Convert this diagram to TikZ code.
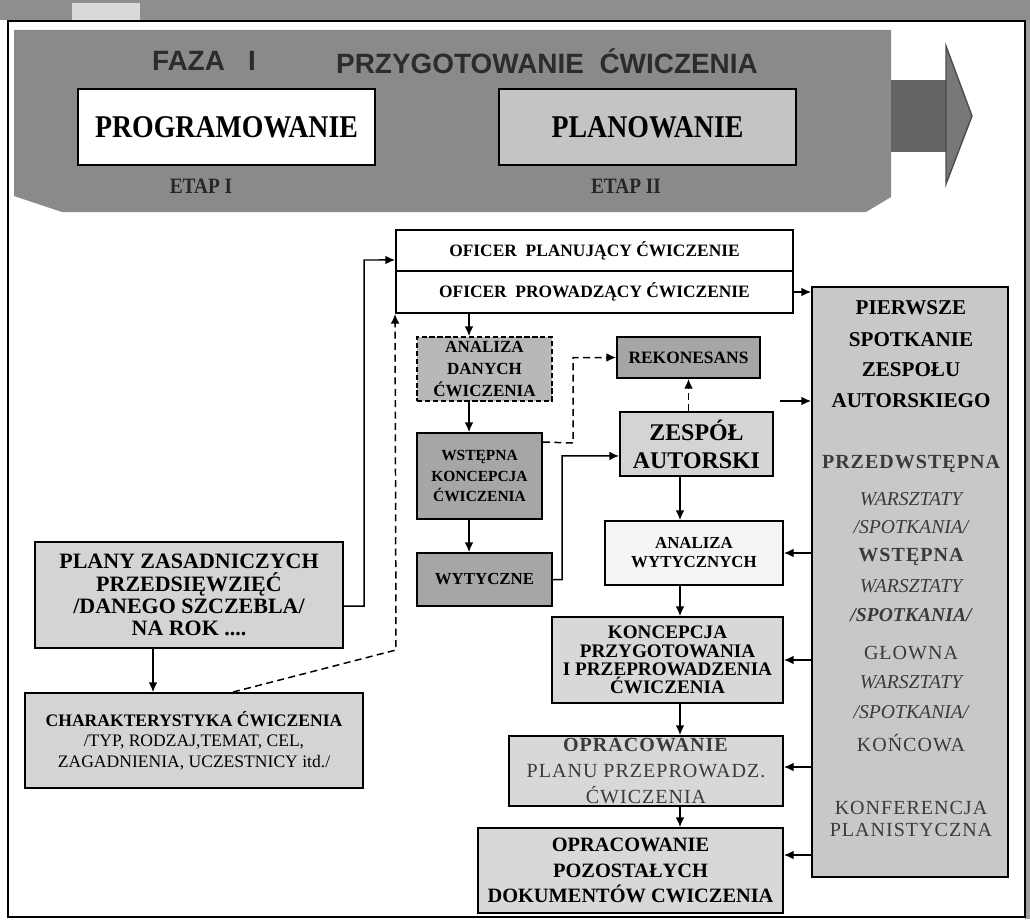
\documentclass[tikz,border=0pt]{standalone}
\usepackage{fontspec}
\setmainfont{Liberation Serif}
\newfontfamily\sansc{Liberation Sans}
\newfontfamily\serifc[FakeStretch=0.88]{Liberation Serif}
\newfontfamily\serifls[LetterSpace=5]{Liberation Serif}
\usetikzlibrary{arrows.meta,fit}
\definecolor{bandtop}{HTML}{8E8E8E}
\definecolor{bannerfill}{HTML}{8A8A8A}
\definecolor{arrshaft}{HTML}{646464}
\definecolor{arrhead}{HTML}{787878}
\definecolor{planfill}{HTML}{C4C4C4}
\definecolor{ltgray}{HTML}{D4D4D4}
\definecolor{midgray}{HTML}{A6A6A6}
\definecolor{dgray}{HTML}{B8B8B8}
\definecolor{colfill}{HTML}{C8C8C8}
\definecolor{titletext}{HTML}{2C2C2C}
\definecolor{softtext}{HTML}{3A3A3A}
\newcommand\fz[2]{\fontsize{#1}{#2}\selectfont}
\tikzset{
  bx/.style={draw=black, line width=1.1pt, inner sep=0pt},
  lbl/.style={align=center, inner sep=0pt},
  conn/.style={line width=0.85pt, -{Latex[length=5.5pt,width=5pt]}},
  dconn/.style={conn, dashed, dash pattern=on 4pt off 2.5pt},
}
% #1 name, #2 corners, #3 box options, #4 font, #5 text
\newcommand\bxt[5]{%
  \node[bx, fit={#2}, #3] (#1) {};
  \node[lbl, font=#4] (#1-t) at (#1.center) {#5};}
\begin{document}
\begin{tikzpicture}[x=0.02cm,y=-0.02cm]
\useasboundingbox (0,0) rectangle (1030,919);
\fill[white] (0,0) rectangle (1030,919);
% scan border
\fill[bandtop] (0,0) rectangle (1030,20);
\fill[gray!30] (72,3) rectangle (140,20);
\fill[gray!75] (1025,20) rectangle (1030,919);
\draw[line width=1pt] (8,21) -- (1025,21) -- (1025,917) -- (8,917) -- cycle;

% banner
\fill[bannerfill] (14,30) -- (891,30) -- (891,197) -- (866,212) -- (62,212) -- (14,196) -- cycle;
\fill[arrshaft] (891,80) rectangle (946,152);
\filldraw[fill=arrhead, draw=black!70, line width=0.8pt] (946,46) -- (972,116) -- (946,184) -- cycle;
\node[lbl, font=\sansc\bfseries\fz{15.9}{18}, text=titletext] (faza) at (204,61) {FAZA\ \ \ I};
\node[lbl, font=\sansc\bfseries\fz{15.9}{18}, text=titletext] (przyg) at (547,61) {PRZYGOTOWANIE\ \ ĆWICZENIA};
\bxt{prog}{(78,89)(375,165)}{fill=white}{\serifc\bfseries\fz{18}{20}}{PROGRAMOWANIE}
\bxt{plan}{(499,89)(796,165)}{fill=planfill}{\serifc\bfseries\fz{18}{20}}{PLANOWANIE}
\node[lbl, font=\serifc\bfseries\fz{12.5}{13}, text=black!85] (etap1) at (201,186) {ETAP I};
\node[lbl, font=\serifc\bfseries\fz{12.5}{13}, text=black!85] (etap2) at (626,186) {ETAP II};

% officer boxes
\bxt{ofp}{(396,230)(793,271)}{fill=white}{\bfseries\fz{9.9}{12}}{OFICER\ \ PLANUJĄCY ĆWICZENIE}
\bxt{ofw}{(396,271)(793,313)}{fill=white}{\bfseries\fz{9.9}{12}}{OFICER\ \ PROWADZĄCY ĆWICZENIE}

% left column
\bxt{plany}{(35,542)(343,648)}{fill=ltgray}{\bfseries\fz{12.5}{12.6}}{PLANY ZASADNICZYCH\\PRZEDSIĘWZIĘĆ\\/DANEGO SZCZEBLA/\\NA ROK ....}
\bxt{charakt}{(25,693)(363,788)}{fill=ltgray}{\fz{10}{11.6}}{\textbf{CHARAKTERYSTYKA ĆWICZENIA}\\/TYP, RODZAJ,TEMAT, CEL,\\ZAGADNIENIA, UCZESTNICY itd./}

% middle column
\bxt{danych}{(417,337)(552,401)}{fill=dgray, dashed, dash pattern=on 3pt off 1.5pt}{\bfseries\fz{9.7}{12.5}}{ANALIZA\\DANYCH\\ĆWICZENIA}
\bxt{wstepna}{(417,433)(542,519)}{fill=midgray}{\bfseries\fz{8.8}{11.6}}{WSTĘPNA\\KONCEPCJA\\ĆWICZENIA}
\bxt{wyt}{(417,553)(552,606)}{fill=midgray}{\bfseries\fz{9.6}{11}}{WYTYCZNE}
\bxt{rekon}{(617,337)(760,378)}{fill=midgray}{\bfseries\fz{9.9}{11}}{REKONESANS}
\bxt{zespol}{(620,412)(773,476)}{fill=ltgray}{\bfseries\fz{13.6}{15.9}}{ZESPÓŁ\\AUTORSKI}

% right chain
\bxt{awyt}{(605,521)(783,585)}{fill=gray!8}{\bfseries\fz{9.6}{10.8}}{ANALIZA\\WYTYCZNYCH}
\bxt{konc}{(552,617)(783,703)}{fill=ltgray!90}{\bfseries\fz{10.9}{10.4}}{KONCEPCJA\\PRZYGOTOWANIA\\I PRZEPROWADZENIA\\ĆWICZENIA}
\bxt{planu}{(509,736)(783,806)}{fill=ltgray!90}{\serifls\fz{11.4}{14.6}\color{softtext}}{\textbf{OPRACOWANIE}\\PLANU PRZEPROWADZ.\\ĆWICZENIA}
\bxt{pozost}{(478,828)(783,913)}{fill=ltgray!90}{\bfseries\fz{11.6}{14.5}}{OPRACOWANIE\\POZOSTAŁYCH\\DOKUMENTÓW CWICZENIA}

% right grey column
\node[bx, fit={(812,287)(1008,877)}, fill=colfill] (col) {};
\begin{scope}[every node/.append style={lbl}]
\node[font=\bfseries\fz{12}{14}] (c1) at (911,308) {PIERWSZE};
\node[font=\bfseries\fz{12}{14}] (c2) at (911,340) {SPOTKANIE};
\node[font=\bfseries\fz{12}{14}] (c3) at (911,370) {ZESPOŁU};
\node[font=\bfseries\fz{12}{14}] (c4) at (911,401) {AUTORSKIEGO};
\node[font=\serifls\bfseries\fz{11.4}{14}, text=softtext] (c5) at (911,464) {PRZEDWSTĘPNA};
\node[font=\itshape\fz{11.2}{14}, text=softtext] (c6) at (911,499) {WARSZTATY};
\node[font=\itshape\fz{11.2}{14}, text=softtext] (c7) at (911,527) {/SPOTKANIA/};
\node[font=\serifls\bfseries\fz{11.4}{14}, text=softtext] (c8) at (911,557) {WSTĘPNA};
\node[font=\itshape\fz{11.2}{14}, text=softtext] (c9) at (911,586) {WARSZTATY};
\node[font=\bfseries\itshape\fz{11.2}{14}, text=softtext] (c10) at (911,615) {/SPOTKANIA/};
\node[font=\serifls\fz{11.4}{14}, text=softtext] (c11) at (911,653) {GŁOWNA};
\node[font=\itshape\fz{11.2}{14}, text=softtext] (c12) at (911,682) {WARSZTATY};
\node[font=\itshape\fz{11.2}{14}, text=softtext] (c13) at (911,712) {/SPOTKANIA/};
\node[font=\serifls\fz{11.4}{14}, text=softtext] (c14) at (911,743) {KOŃCOWA};
\node[font=\serifls\fz{11.4}{14}, text=softtext] (c15) at (911,808) {KONFERENCJA};
\node[font=\serifls\fz{11.4}{14}, text=softtext] (c16) at (911,830) {PLANISTYCZNA};
\end{scope}

% helper coordinates
\coordinate (ax) at (153,0);
\coordinate (dx) at (233,0);
\coordinate (cx) at (469,0);
\coordinate (vx) at (680,0);
\coordinate (zf) at (780,401);

% connectors
\draw[conn] (plany.east) ++(0,11) -- (364,606) -- (364,260) -- ([yshift=-5.4pt]ofp.west);
\draw[conn] (plany.south -| ax) -- (charakt.north -| ax);
\draw[dconn] (charakt.north -| dx) -- (396,650) -- (ofw.south west);
\draw[conn] (ofw.south -| cx) -- (danych.north -| cx);
\draw[conn] (danych.south -| cx) -- (wstepna.north -| cx);
\draw[conn] (wstepna.south -| cx) -- (wyt.north -| cx);
\draw[dconn] (wstepna.north east) ++(0,10) -- (573,443) |- (rekon.west);
\draw[conn] (wyt.east) -- (562,579.5) |- ([yshift=-6.8pt]zespol.west);
\draw[dconn] (zespol.north -| rekon.south) -- (rekon.south);
\draw[conn] (zespol.south -| vx) -- (awyt.north -| vx);
\draw[conn] (awyt.south -| vx) -- (konc.north -| vx);
\draw[conn] (konc.south -| vx) -- (planu.north -| vx);
\draw[conn] (planu.south -| vx) -- (pozost.north -| vx);
\draw[conn] (ofw.east) -- (col.west |- ofw.east);
\draw[conn] (zf) -- (col.west |- zf);
\draw[conn] (col.west |- awyt.east) -- (awyt.east);
\draw[conn] (col.west |- konc.east) -- (konc.east);
\draw[conn] (col.west |- 0,767) -- (planu.east |- 0,767);
\draw[conn] (col.west |- 0,855) -- (pozost.east |- 0,855);
\end{tikzpicture}
\end{document}
